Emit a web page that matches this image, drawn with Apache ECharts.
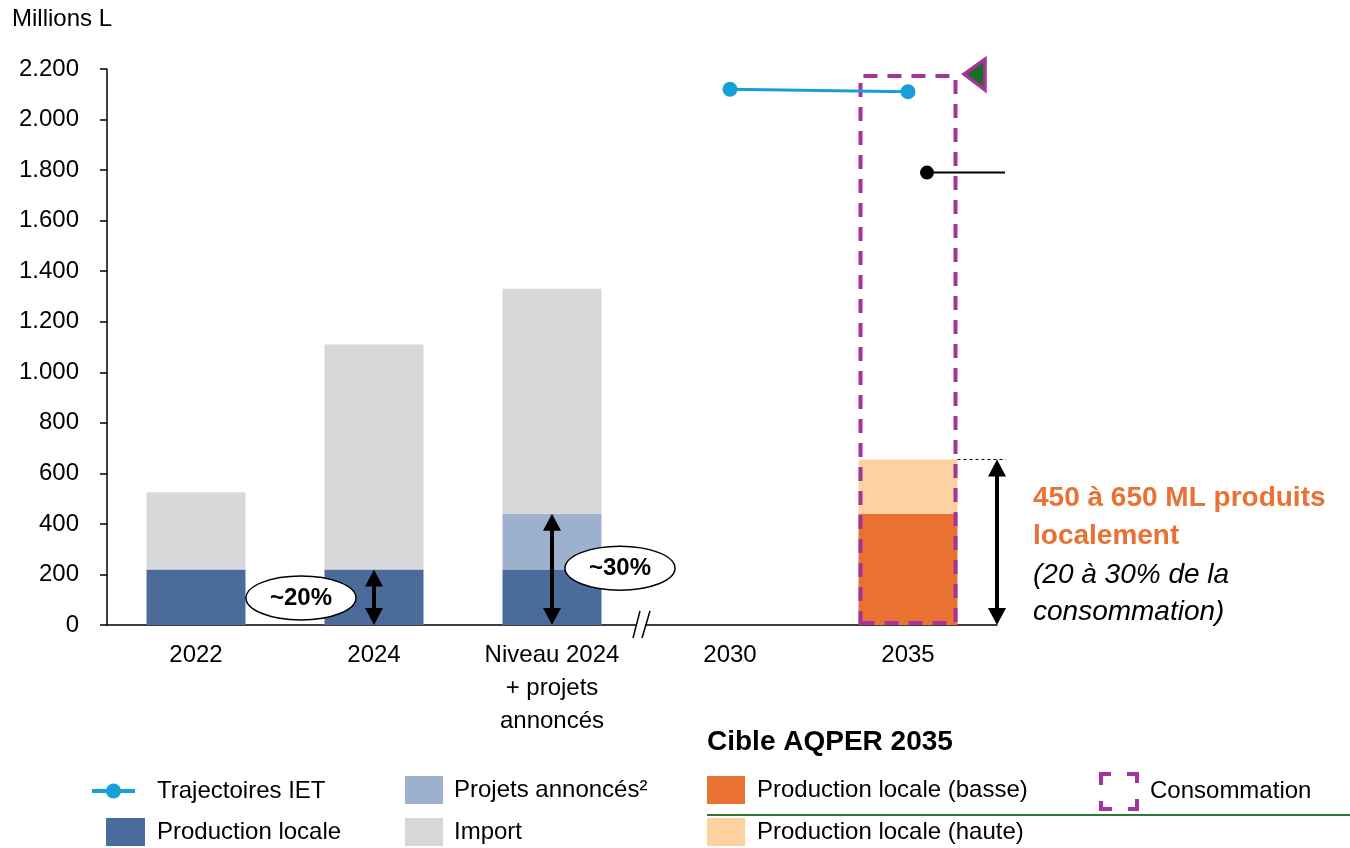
<!DOCTYPE html>
<html>
<head>
<meta charset="utf-8">
<title>Production locale</title>
<script src="https://cdn.jsdelivr.net/npm/echarts@6/dist/echarts.min.js"></script>
<style>
  html, body { margin: 0; padding: 0; background: #fff; }
  #chart { width: 1350px; height: 848px; }
</style>
</head>
<body>
<div id="chart"></div>
<script>
// catégories de l'axe x
const years = ['2022', '2024', 'Niveau 2024\n+ projets\nannoncés', '2030', '2035'];
// séries (millions de litres)
const prodLocale = [220, 220, 220, null, null];
const projets = [null, null, 220, null, null];
const importVals = [305, 890, 890, null, null];
const prodBasse = [null, null, null, null, 440];
const prodHaute = [null, null, null, null, 215];
const consommation = [null, null, null, null, 2180];
const trajIET = [null, null, null, 2120, 2110];
const repere2035 = 1790; // point noir à droite de 2035
const partLabels = ['~20%', '~30%'];
const partValues = [107, 225]; // hauteur des bulles

const FONT = '"Liberation Sans", Arial, sans-serif';
const BAR_W = 99;

const colors = {
  prod: '#4B6B9B',
  projets: '#9DB0CE',
  import: '#D7D8DA',
  basse: '#E97132',
  haute: '#FDD1A0',
  conso: '#A3359D',
  iet: '#17A0D8',
  green: '#1E6B25'
};

// flèches : [catégorie, bas, haut]
const arrowData = [
  [1, 0, prodLocale[1]],
  [2, 0, prodLocale[2] + projets[2]],
  [4, 0, prodBasse[4] + prodHaute[4]]
];
const arrowOffsets = [0, 0, 89];
const bubbleOffsets = [-73, 68];

const chart = echarts.init(document.getElementById('chart'));

function renderArrows(params, api) {
  const i = params.dataIndex;
  const b = api.coord([api.value(0), api.value(1)]);
  const t = api.coord([api.value(0), api.value(2)]);
  const cx = b[0];
  const x = cx + arrowOffsets[i];
  const hw = 9, hh = 17;
  const children = [
    { type: 'line', shape: { x1: x, y1: t[1] + hh - 2, x2: x, y2: b[1] - hh + 2 }, style: { stroke: '#000', lineWidth: 4 } },
    { type: 'polygon', shape: { points: [[x, t[1]], [x - hw, t[1] + hh], [x + hw, t[1] + hh]] }, style: { fill: '#000' } },
    { type: 'polygon', shape: { points: [[x, b[1]], [x - hw, b[1] - hh], [x + hw, b[1] - hh]] }, style: { fill: '#000' } }
  ];
  if (i === 2) {
    children.push({
      type: 'line',
      shape: { x1: cx + BAR_W / 2, y1: t[1], x2: x + 9, y2: t[1] },
      style: { stroke: '#000', lineWidth: 1, lineDash: [3, 3] }
    });
  }
  return { type: 'group', children };
}

function renderBubbles(params, api) {
  const i = params.dataIndex;
  const p = api.coord([api.value(0), api.value(1)]);
  const x = p[0] + bubbleOffsets[i];
  return {
    type: 'group',
    children: [
      { type: 'ellipse', shape: { cx: x, cy: p[1], rx: 55, ry: 22 }, style: { fill: '#fff', stroke: '#000', lineWidth: 1.5 } },
      { type: 'text', style: { text: partLabels[i], x: x, y: p[1], align: 'center', verticalAlign: 'middle', font: 'bold 24px ' + FONT, fill: '#000' } }
    ]
  };
}

function renderBreak(params, api) {
  const a = api.coord([2, 0]);
  const b = api.coord([3, 0]);
  const m = (a[0] + b[0]) / 2;
  const y = a[1];
  return {
    type: 'group',
    children: [
      { type: 'rect', shape: { x: m - 4, y: y - 3, width: 8, height: 6 }, style: { fill: '#fff' } },
      { type: 'line', shape: { x1: m - 8, y1: y + 13, x2: m - 1, y2: y - 14 }, style: { stroke: '#000', lineWidth: 1.5 } },
      { type: 'line', shape: { x1: m + 1, y1: y + 13, x2: m + 9, y2: y - 14 }, style: { stroke: '#000', lineWidth: 1.5 } }
    ]
  };
}

function renderRepere(params, api) {
  const p = api.coord([api.value(0), api.value(1)]);
  return {
    type: 'group',
    children: [
      { type: 'line', shape: { x1: p[0] + 19, y1: p[1], x2: p[0] + 97, y2: p[1] }, style: { stroke: '#000', lineWidth: 2 } },
      { type: 'circle', shape: { cx: p[0] + 19, cy: p[1], r: 7 }, style: { fill: '#000' } }
    ]
  };
}

function renderTriangle(params, api) {
  const p = api.coord([api.value(0), api.value(1)]);
  const x = p[0];
  return {
    type: 'polygon',
    shape: { points: [[x + 56, p[1]], [x + 77, p[1] - 15], [x + 77, p[1] + 16]] },
    style: { fill: colors.green, stroke: colors.conso, lineWidth: 3.5, lineJoin: 'miter' }
  };
}

function legendAt(name, left, top, w, h, pad, extra) {
  return Object.assign({
    data: [name],
    left: left,
    top: top,
    padding: 0,
    itemWidth: w,
    itemHeight: h,
    icon: 'rect',
    selectedMode: false,
    textStyle: { fontSize: 24, fontFamily: FONT, color: '#000', padding: [0, 0, 0, pad] }
  }, extra || {});
}

const option = {
  animation: false,
  textStyle: { fontFamily: FONT },
  grid: { left: 107, right: 353, top: 69, bottom: 223 },
  legend: [
    legendAt('Trajectoires IET', 90, 779, 43, 19, 17, {
      icon: null,
      lineStyle: { width: 4 },
      itemStyle: { color: colors.iet }
    }),
    legendAt('Production locale', 106, 818, 39, 28, 7),
    legendAt('Projets annoncés²', 405, 776, 38, 28, 6),
    legendAt('Import', 405, 818, 38, 28, 6),
    legendAt('Production locale (basse)', 707, 776, 38, 28, 7),
    legendAt('Production locale (haute)', 707, 818, 38, 28, 7),
    legendAt('Consommation', 1099, 772, 36, 35, 8, {
      itemStyle: {
        color: 'rgba(0,0,0,0)',
        borderColor: colors.conso,
        borderWidth: 4,
        borderType: [19, 16],
        borderDashOffset: 9
      }
    })
  ],
  xAxis: {
    type: 'category',
    data: years,
    axisLine: { lineStyle: { color: '#000', width: 1.5 } },
    axisTick: { show: false },
    axisLabel: { color: '#000', fontSize: 24, margin: 14, lineHeight: 33, fontFamily: FONT }
  },
  yAxis: {
    type: 'value',
    min: 0,
    max: 2200,
    interval: 200,
    splitLine: { show: false },
    axisLine: { show: true, lineStyle: { color: '#000', width: 1.5 } },
    axisTick: { show: true, length: 7, lineStyle: { color: '#000', width: 1.5 } },
    axisLabel: {
      color: '#000',
      fontSize: 24,
      margin: 28,
      fontFamily: FONT,
      formatter: v => String(v).replace(/\B(?=(\d{3})+(?!\d))/g, '.')
    }
  },
  series: [
    { name: 'Production locale', type: 'bar', stack: 'total', barWidth: BAR_W, barGap: '-100%', data: prodLocale, itemStyle: { color: colors.prod } },
    { name: 'Projets annoncés²', type: 'bar', stack: 'total', barWidth: BAR_W, barGap: '-100%', data: projets, itemStyle: { color: colors.projets } },
    { name: 'Import', type: 'bar', stack: 'total', barWidth: BAR_W, barGap: '-100%', data: importVals, itemStyle: { color: colors.import } },
    { name: 'Production locale (basse)', type: 'bar', stack: 'total', barWidth: BAR_W, barGap: '-100%', data: prodBasse, itemStyle: { color: colors.basse } },
    { name: 'Production locale (haute)', type: 'bar', stack: 'total', barWidth: BAR_W, barGap: '-100%', data: prodHaute, itemStyle: { color: colors.haute } },
    {
      name: 'Consommation', type: 'bar', barWidth: BAR_W, barGap: '-100%', z: 5, data: consommation,
      itemStyle: { color: 'rgba(0,0,0,0)', borderColor: colors.conso, borderWidth: 4, borderType: [14, 10] }
    },
    {
      name: 'Trajectoires IET', type: 'line', data: trajIET, z: 6,
      symbol: 'circle', symbolSize: 15,
      lineStyle: { color: colors.iet, width: 3 },
      itemStyle: { color: colors.iet }
    },
    { type: 'custom', renderItem: renderArrows, data: arrowData, z: 7, silent: true },
    { type: 'custom', renderItem: renderBubbles, data: [[1, partValues[0]], [2, partValues[1]]], z: 8, silent: true },
    { type: 'custom', renderItem: renderBreak, data: [[2, 0]], z: 9, silent: true },
    { type: 'custom', renderItem: renderRepere, data: [[4, repere2035]], z: 7, silent: true },
    { type: 'custom', renderItem: renderTriangle, data: [[4, consommation[4]]], z: 7, silent: true }
  ],
  graphic: [
    { type: 'text', x: 12, y: 19, style: { text: 'Millions L', font: '24px ' + FONT, fill: '#000', verticalAlign: 'middle' } },
    { type: 'text', x: 1033, y: 498, style: { text: '450 à 650 ML produits', font: 'bold 28px ' + FONT, fill: colors.basse, verticalAlign: 'middle' } },
    { type: 'text', x: 1033, y: 536, style: { text: 'localement', font: 'bold 28px ' + FONT, fill: colors.basse, verticalAlign: 'middle' } },
    { type: 'text', x: 1033, y: 575, style: { text: '(20 à 30% de la', font: 'italic 28px ' + FONT, fill: '#000', verticalAlign: 'middle' } },
    { type: 'text', x: 1033, y: 612, style: { text: 'consommation)', font: 'italic 28px ' + FONT, fill: '#000', verticalAlign: 'middle' } },
    { type: 'text', x: 707, y: 742, style: { text: 'Cible AQPER 2035', font: 'bold 28px ' + FONT, fill: '#000', verticalAlign: 'middle' } },
    { type: 'line', shape: { x1: 707, y1: 815, x2: 1350, y2: 815 }, style: { stroke: '#2E7A34', lineWidth: 2 } }
  ]
};

chart.setOption(option);
</script>
</body>
</html>
